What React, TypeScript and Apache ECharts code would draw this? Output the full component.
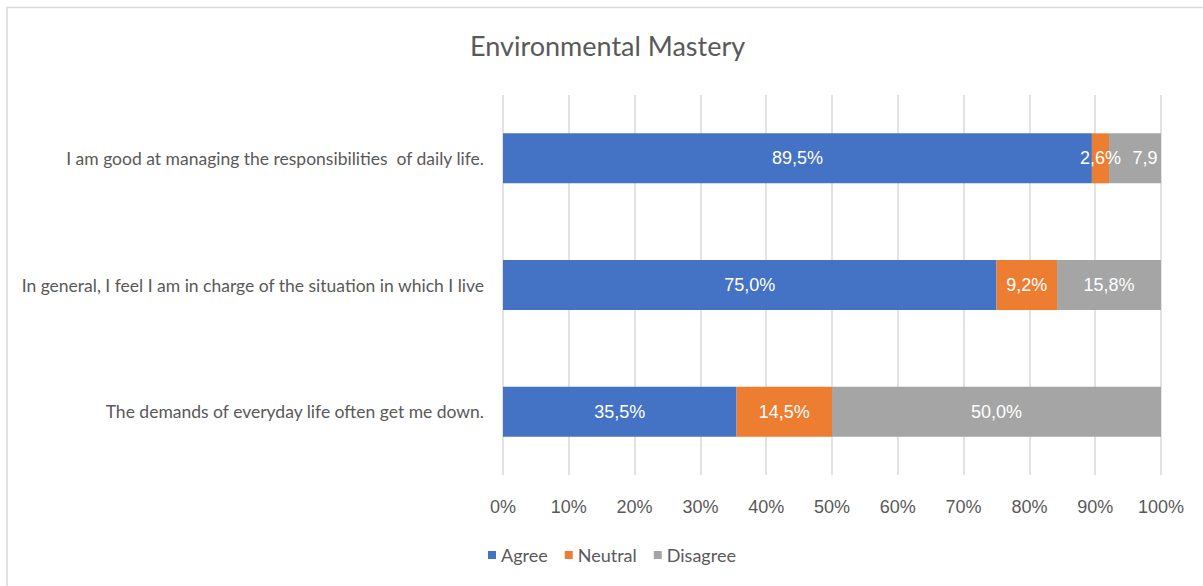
import React, { useEffect, useRef } from "react";
import * as echarts from "echarts";

const categories = [
  "I am good at managing the responsibilities  of daily life.",
  "In general, I feel I am in charge of the situation in which I live",
  "The demands of everyday life often get me down.",
];
const agree = [89.5, 75.0, 35.5];
const neutral = [2.6, 9.2, 14.5];
const disagree = [7.9, 15.8, 50.0];
const xTicks = [0, 10, 20, 30, 40, 50, 60, 70, 80, 90, 100];
const seriesNames = ["Agree", "Neutral", "Disagree"];
const colors = ["#4472C4", "#ED7D31", "#A5A5A5"];

const fmt = (v: number) => v.toFixed(1).replace(".", ",") + "%";

export default function App() {
  const ref = useRef<HTMLDivElement>(null);
  useEffect(() => {
    if (!ref.current) return;
    const chart = echarts.init(ref.current, null, { renderer: "svg" });
    const labelBase = {
      show: true,
      position: "inside" as const,
      color: "#ffffff",
      fontFamily: "Liberation Sans, Arial, sans-serif",
      fontSize: 18,
      formatter: (p: any) => fmt(p.value),
    };
    const mk = (name: string, vals: number[], color: string) => ({
      name,
      type: "bar" as const,
      stack: "total",
      barWidth: 50,
      itemStyle: { color },
      label: labelBase,
      data: vals.map((v, i) => {
        if (name === "Disagree" && i === 0) {
          return {
            value: v,
            label: {
              offset: [10, 0],
              width: 40,
              overflow: "truncate",
              ellipsis: "",
            },
          };
        }
        return v;
      }),
    });
    chart.setOption({
      animation: false,
      backgroundColor: "#ffffff",
      graphic: [
        {
          type: "rect",
          shape: { x: 7, y: 7.5, width: 1300, height: 700 },
          style: { fill: "none", stroke: "#d9d9d9", lineWidth: 1.5 },
          silent: true,
        },
      ],
      title: {
        text: "Environmental Mastery",
        left: 465,
        top: 27,
        textStyle: {
          fontFamily: "Lato",
          fontWeight: "normal",
          fontSize: 27,
          color: "#595959",
        },
      },
      legend: {
        data: seriesNames,
        left: 483,
        top: 541,
        icon: "rect",
        itemWidth: 8,
        itemHeight: 8,
        itemGap: 17,
        textStyle: {
          fontFamily: "Lato",
          fontSize: 18,
          color: "#595959",
        },
      },
      grid: { left: 503, right: 42, top: 95, bottom: 111 },
      xAxis: {
        type: "value",
        min: xTicks[0],
        max: xTicks[xTicks.length - 1],
        interval: xTicks[1] - xTicks[0],
        axisLine: { show: false },
        axisTick: { show: false },
        axisLabel: {
          formatter: "{value}%",
          margin: 23,
          color: "#595959",
          fontFamily: "Liberation Sans, Arial, sans-serif",
          fontSize: 18,
        },
        splitLine: { lineStyle: { color: "#d9d9d9", width: 1.5 } },
      },
      yAxis: {
        type: "category",
        inverse: true,
        data: categories,
        axisLine: { show: false },
        axisTick: { show: false },
        axisLabel: {
          margin: 19,
          color: "#595959",
          fontFamily: "Lato",
          fontSize: 17.5,
        },
      },
      series: [
        mk(seriesNames[0], agree, colors[0]),
        mk(seriesNames[1], neutral, colors[1]),
        mk(seriesNames[2], disagree, colors[2]),
      ],
    });
    return () => chart.dispose();
  }, []);
  return (
    <div
      ref={ref}
      style={{ position: "fixed", left: 0, top: 0, width: 1203, height: 586 }}
    />
  );
}
